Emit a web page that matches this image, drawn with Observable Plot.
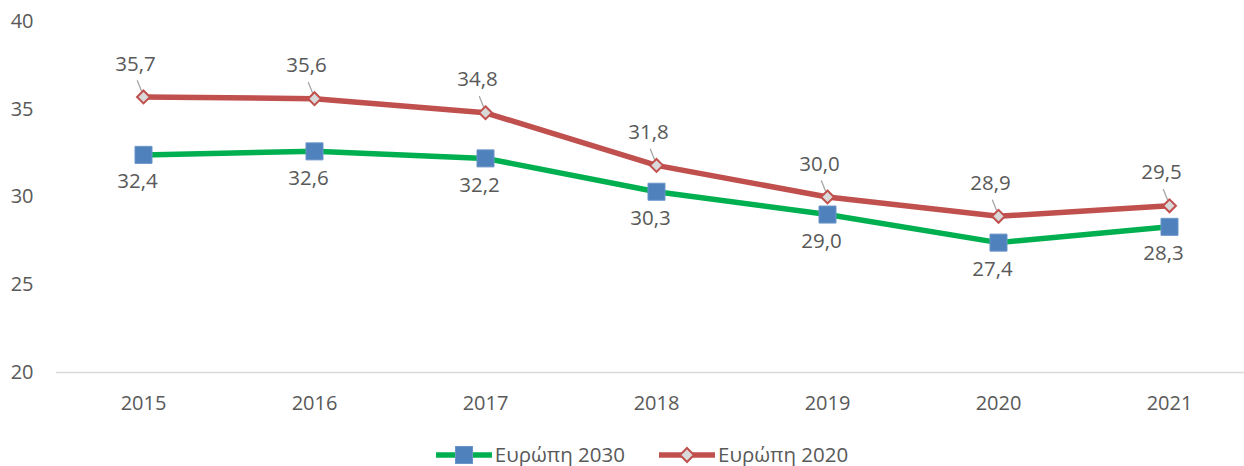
<!DOCTYPE html>
<html>
<head>
<meta charset="utf-8">
<script src="https://cdn.jsdelivr.net/npm/d3@7"></script>
<script src="https://cdn.jsdelivr.net/npm/@observablehq/plot@0.6"></script>
<style>
  html, body { margin: 0; padding: 0; background: #fff; overflow: hidden; }
  body { width: 1244px; height: 466px; font-family: "Open Sans", sans-serif; color: #595959; }
  #legend { height: 23px; display: flex; justify-content: center; align-items: center; font-size: 20.5px; line-height: 23px; padding-left: 40px; overflow: visible; }
  .item { display: flex; align-items: center; }
  .item svg { display: block; }
  .item span { margin-left: 3px; white-space: nowrap; }
  .item + .item { margin-left: 34px; }
</style>
</head>
<body>
<div id="chart"></div>
<div id="legend"></div>
<script>
const years = ["2015", "2016", "2017", "2018", "2019", "2020", "2021"];
const europe2030 = [32.4, 32.6, 32.2, 30.3, 29.0, 27.4, 28.3];
const europe2020 = [35.7, 35.6, 34.8, 31.8, 30.0, 28.9, 29.5];
const yTicks = [20, 25, 30, 35, 40];
const seriesNames = ["Ευρώπη 2030", "Ευρώπη 2020"];

const green = "#00b050", red = "#c0504d", blue = "#4f81bd", grey = "#d9d9d9", textCol = "#595959";
const fmt = v => v.toFixed(1).replace(".", ",");

const rows2030 = years.map((y, i) => ({year: y, value: europe2030[i]}));
const rows2020 = years.map((y, i) => ({year: y, value: europe2020[i]}));

const leaderShape = {
  draw(context, l) { context.moveTo(0, 0); context.lineTo(0, -l); }
};

const chart = Plot.plot({
  width: 1244,
  height: 443,
  marginLeft: 56,
  marginRight: -11,
  marginTop: 21,
  marginBottom: 71,
  style: {fontFamily: "Open Sans", fontSize: "20px", color: textCol, background: "white", overflow: "hidden"},
  x: {type: "point", domain: years, padding: 0.5, label: null},
  y: {domain: [20, 40], ticks: yTicks, label: null},
  marks: [
    Plot.ruleY([20], {stroke: grey, strokeWidth: 1.5}),
    Plot.axisY({ticks: yTicks, tickSize: 0, tickPadding: 23, label: null, fill: textCol}),
    Plot.axisX({tickSize: 0, tickPadding: 23, label: null, fill: textCol}),
    Plot.line(rows2030, {x: "year", y: "value", stroke: green, strokeWidth: 5.5}),
    Plot.line(rows2020, {x: "year", y: "value", stroke: red, strokeWidth: 5.5}),
    Plot.vector(rows2020, {x: "year", y: "value", length: 11, rotate: -22, anchor: "start", dx: -2, dy: -6,
      shape: leaderShape, stroke: "#a6a6a6", strokeWidth: 1.3}),
    Plot.dot(rows2030, {x: "year", y: "value", symbol: "square", r: 9.6, fill: blue, stroke: "#6a95c9", strokeWidth: 1}),
    Plot.dot(rows2020, {x: "year", y: "value", symbol: "diamond2", r: 5.8, fill: grey, stroke: red, strokeWidth: 2}),
    Plot.text(rows2020, {x: "year", y: "value", text: d => fmt(d.value), dx: -8, dy: -33, fill: textCol, fontSize: 20.5}),
    Plot.text(rows2030, {x: "year", y: "value", text: d => fmt(d.value), dx: -6, dy: 27, fill: textCol, fontSize: 20.5})
  ]
});
document.getElementById("chart").appendChild(chart);

// Legend
const legend = d3.select("#legend");
const items = [
  {name: seriesNames[0], color: green, symbol: "square"},
  {name: seriesNames[1], color: red, symbol: "diamond"}
];
for (const it of items) {
  const div = legend.append("div").attr("class", "item");
  const svg = div.append("svg").attr("width", 56).attr("height", 20);
  svg.append("line").attr("x1", 1).attr("x2", 55).attr("y1", 10).attr("y2", 10)
    .attr("stroke", it.color).attr("stroke-width", 5.5).attr("stroke-linecap", "round");
  if (it.symbol === "square") {
    svg.append("rect").attr("x", 28 - 8.5).attr("y", 10 - 8.5).attr("width", 17).attr("height", 17)
      .attr("fill", blue).attr("stroke", "#6a95c9");
  } else {
    svg.append("path").attr("d", "M28,3 L35,10 L28,17 L21,10 Z")
      .attr("fill", grey).attr("stroke", red).attr("stroke-width", 2);
  }
  div.append("span").text(it.name);
}
</script>
</body>
</html>
